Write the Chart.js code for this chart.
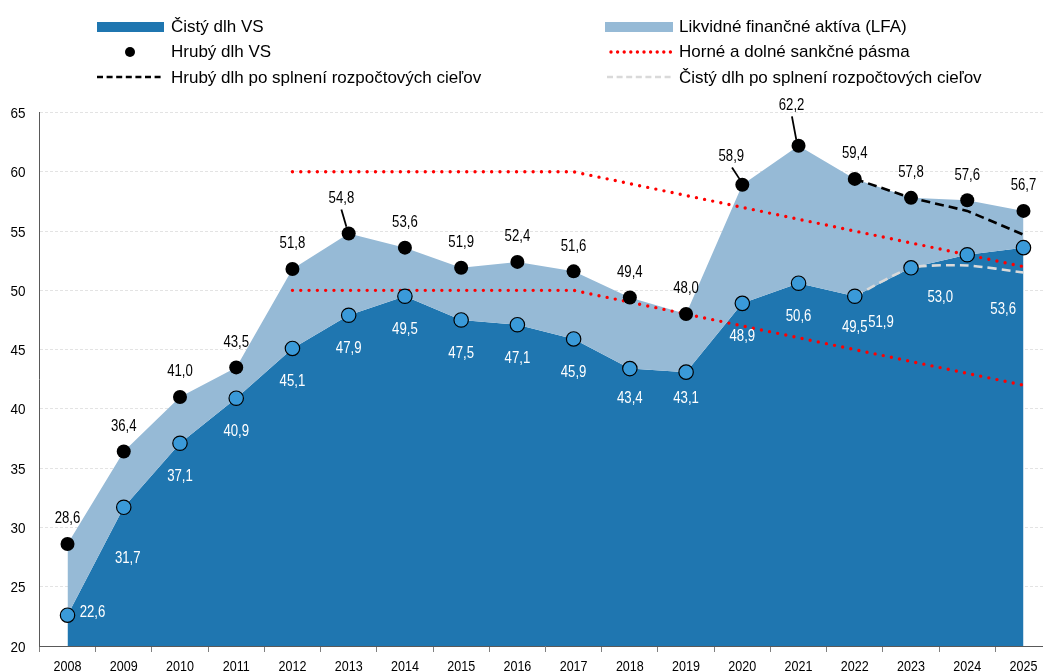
<!DOCTYPE html>
<html>
<head>
<meta charset="utf-8">
<script src="https://cdn.jsdelivr.net/npm/chart.js@4"></script>
<style>
html,body{margin:0;padding:0;background:#fff;overflow:hidden;width:1043px;height:671px;}
#wrap{position:absolute;left:0;top:0;width:1060px;height:671px;}
.lg{position:absolute;font-family:"Liberation Sans",Arial,sans-serif;font-size:17px;color:#000;line-height:20px;white-space:nowrap;}
.sw{position:absolute;}
</style>
</head>
<body>
<div id="wrap"><canvas id="c"></canvas></div>
<div id="legend">
  <div class="sw" style="left:97px;top:22px;width:67px;height:10px;background:#1f76b0"></div>
  <div class="lg" style="left:171px;top:17px">Čistý dlh VS</div>
  <svg class="sw" style="left:120px;top:42px" width="20" height="20"><circle cx="10" cy="10" r="5" fill="#000"/></svg>
  <div class="lg" style="left:171px;top:42px">Hrubý dlh VS</div>
  <svg class="sw" style="left:95px;top:72px" width="72" height="10"><line x1="2" y1="5" x2="69" y2="5" stroke="#000" stroke-width="2.5" stroke-dasharray="6 3.6"/></svg>
  <div class="lg" style="left:171px;top:67.5px">Hrubý dlh po splnení rozpočtových cieľov</div>

  <div class="sw" style="left:605px;top:22px;width:68px;height:10px;background:#96bad6"></div>
  <div class="lg" style="left:679px;top:17px">Likvidné finančné aktíva (LFA)</div>
  <svg class="sw" style="left:603px;top:47px" width="72" height="10"><line x1="8" y1="5" x2="68" y2="5" stroke="#ff0000" stroke-width="3.4" stroke-linecap="round" stroke-dasharray="0 6.6"/></svg>
  <div class="lg" style="left:679px;top:42px">Horné a dolné sankčné pásma</div>
  <svg class="sw" style="left:603px;top:72px" width="72" height="10"><line x1="4" y1="5" x2="70" y2="5" stroke="#d9d9d9" stroke-width="2.5" stroke-dasharray="6 3.6"/></svg>
  <div class="lg" style="left:679px;top:67.5px">Čistý dlh po splnení rozpočtových cieľov</div>
</div>
<script>
const years = ['2008','2009','2010','2011','2012','2013','2014','2015','2016','2017','2018','2019','2020','2021','2022','2023','2024','2025'];
const netDebt = [22.6,31.7,37.1,40.9,45.1,47.9,49.5,47.5,47.1,45.9,43.4,43.1,48.9,50.6,49.5,51.9,53.0,53.6];
const grossDebt = [28.6,36.4,41.0,43.5,51.8,54.8,53.6,51.9,52.4,51.6,49.4,48.0,58.9,62.2,59.4,57.8,57.6,56.7];
const upperBand = [null,null,null,null,60,60,60,60,60,60,59,58,57,56,55,54,53,52];
const lowerBand = [null,null,null,null,50,50,50,50,50,50,49,48,47,46,45,44,43,42];
const grossTarget = [null,null,null,null,null,null,null,null,null,null,null,null,null,null,59.4,57.8,56.7,54.7];
const netTarget = [null,null,null,null,null,null,null,null,null,null,null,null,null,null,49.5,51.9,52.1,51.5];
const yTickValues = [20,25,30,35,40,45,50,55,60,65];
const yMin = 20, yMax = 65, yStep = 5;

const C_DARK = '#1f76b0', C_LIGHT = '#96bad6', C_NETPT = '#3a9ad9';
const FONT = '"Liberation Sans",Arial,sans-serif';

// label placement offsets (dx, dy of label centre from point; optional leader line)
const grossLabelPos = {
  5: {dx:-7.3, dy:-36.3, lead:[-7.3,-24,-2.3,-6.7]},
  12:{dx:-11, dy:-30, lead:[-10.3,-17.3,-2.7,-5.7]},
  13:{dx:-7, dy:-42, lead:[-6.6,-29.3,-2.3,-6]}
};
const netLabelPos = {
  0:{dx:25, dy:-4.5},
  1:{dx:4, dy:49.6},
  10:{dx:0, dy:29},
  11:{dx:0, dy:25.5},
  14:{dx:0, dy:30},
  15:{dx:-30, dy:53.4},
  16:{dx:-27, dy:41.3},
  17:{dx:-20.3, dy:60.6}
};
const fmt = v => v.toFixed(1).replace('.', ',');

// draw horizontally condensed text centred (vertically on cap height) at x,y
function condText(ctx, txt, x, y, size, sx, align) {
  ctx.save();
  ctx.font = size + 'px ' + FONT;
  ctx.textAlign = align || 'center';
  ctx.textBaseline = 'alphabetic';
  ctx.translate(x, y + size * 0.358);
  ctx.scale(sx, 1);
  ctx.fillText(txt, 0, 0);
  ctx.restore();
}

const labelPlugin = {
  id: 'valueLabels',
  afterDraw(chart) {
    const ctx = chart.ctx, xs = chart.scales.x, ys = chart.scales.y;
    ctx.save();
    // axis tick labels
    ctx.fillStyle = '#000';
    yTickValues.forEach(v => condText(ctx, String(v), 25.5, ys.getPixelForValue(v) + 0.5, 14.2, 0.95, 'right'));
    years.forEach((y, i) => condText(ctx, y, xs.getPixelForValue(i), 665.7, 14.6, 0.86, 'center'));
    // value labels
    const fs = 16.3, sx = 0.81;
    grossDebt.forEach((v, i) => {
      const px = xs.getPixelForValue(i), py = ys.getPixelForValue(v);
      const o = grossLabelPos[i] || {dx:0, dy:-26.5};
      ctx.fillStyle = '#000';
      condText(ctx, fmt(v), px + o.dx, py + o.dy, fs, sx);
      if (o.lead) {
        ctx.strokeStyle = '#000'; ctx.lineWidth = 1.8;
        ctx.beginPath();
        ctx.moveTo(px + o.lead[0], py + o.lead[1]);
        ctx.lineTo(px + o.lead[2], py + o.lead[3]);
        ctx.stroke();
      }
    });
    netDebt.forEach((v, i) => {
      const px = xs.getPixelForValue(i), py = ys.getPixelForValue(v);
      const o = netLabelPos[i] || {dx:0, dy:32};
      ctx.fillStyle = '#fff';
      condText(ctx, fmt(v), px + o.dx, py + o.dy, fs, sx);
    });
    ctx.restore();
  }
};

new Chart(document.getElementById('c'), {
  type: 'line',
  data: {
    labels: years,
    datasets: [
      {label:'Čistý dlh VS', data: netDebt, fill: 'start', backgroundColor: C_DARK, borderWidth: 0, pointRadius: 0, order: 10},
      {label:'Likvidné finančné aktíva (LFA)', data: grossDebt, fill: {target: 0}, backgroundColor: C_LIGHT, borderWidth: 0, pointRadius: 0, order: 9},
      {label:'Horné sankčné pásmo', data: upperBand, borderColor: '#ff0000', borderWidth: 3.4, borderDash: [0, 8.3], borderCapStyle: 'round', pointRadius: 0, fill: false, order: 6},
      {label:'Dolné sankčné pásmo', data: lowerBand, borderColor: '#ff0000', borderWidth: 3.4, borderDash: [0, 8.3], borderCapStyle: 'round', pointRadius: 0, fill: false, order: 5},
      {label:'Hrubý dlh po splnení rozpočtových cieľov', data: grossTarget, borderColor: '#000', borderWidth: 2.6, borderDash: [9, 5], pointRadius: 0, fill: false, order: 4},
      {label:'Čistý dlh po splnení rozpočtových cieľov', data: netTarget, borderColor: '#d9d9d9', borderWidth: 2.6, borderDash: [9, 5], pointRadius: 0, fill: false, tension: 0.2, order: 3},
      {label:'Hrubý dlh VS', data: grossDebt, showLine: false, pointRadius: 7, pointBackgroundColor: '#000', pointBorderColor: '#000', pointBorderWidth: 0, order: 2},
      {label:'Čistý dlh VS body', data: netDebt, showLine: false, pointRadius: 7.2, pointBackgroundColor: C_NETPT, pointBorderColor: '#000', pointBorderWidth: 1.2, order: 1}
    ]
  },
  options: {
    responsive: true,
    maintainAspectRatio: false,
    animation: false,
    events: [],
    layout: {padding: {top: 112.5, right: 1.8, left: 0, bottom: 0}},
    plugins: {legend: {display: false}, tooltip: {enabled: false}},
    scales: {
      x: {
        offset: true,
        grid: {offset: true, drawOnChartArea: false, drawTicks: true, tickLength: 6, color: '#7f7f7f'},
        border: {display: true, color: '#595959', width: 1},
        ticks: {display: false},
        afterFit: s => { s.height = 25; }
      },
      y: {
        min: yMin, max: yMax,
        grid: {color: '#e3e3e3', drawTicks: false, lineWidth: 1},
        border: {display: true, color: '#595959', width: 1, dash: [3, 2]},
        ticks: {display: false, stepSize: yStep},
        afterFit: s => { s.width = 39.4; }
      }
    }
  },
  plugins: [labelPlugin]
});
</script>
</body>
</html>
